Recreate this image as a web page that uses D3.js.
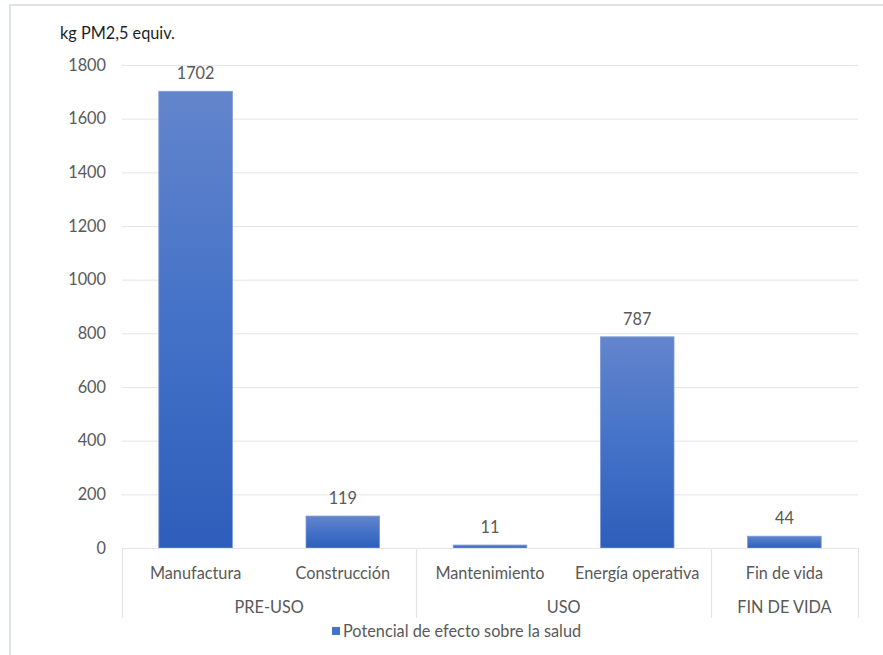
<!DOCTYPE html>
<html>
<head>
<meta charset="utf-8">
<script src="https://cdn.jsdelivr.net/npm/d3@7"></script>
<style>
  html, body { margin: 0; padding: 0; background: #fff; }
  svg { display: block; font-family: Lato, "Open Sans", sans-serif; }
</style>
</head>
<body>
<svg id="chart" width="883" height="655"></svg>
<script>
// Impact per life-cycle stage
const categories = ["Manufactura", "Construcción", "Mantenimiento", "Energía operativa", "Fin de vida"];
const values = [1702, 119, 11, 787, 44];
const groupNames = ["PRE-USO", "USO", "FIN DE VIDA"];
const groupSizes = [2, 2, 1];
const yTicks = [0, 200, 400, 600, 800, 1000, 1200, 1400, 1600, 1800];
const unitLabel = "kg PM2,5 equiv.";
const seriesName = "Potencial de efecto sobre la salud";

(function () {
const svg = d3.select("#chart");
const W = 883, H = 655;
const plotL = 122, plotR = 858, plotT = 65, plotB = 548;
const textColor = "#595959";
const gridColor = "#e3e5ea";
const fs = 16.3;

// outer frame
svg.append("path")
  .attr("d", `M10,${H + 2} L10,5 L${W + 2},5`)
  .attr("fill", "none").attr("stroke", "#dee2ea").attr("stroke-width", 2);

const x = d3.scaleBand().domain(categories).range([plotL, plotR]).paddingInner(0).paddingOuter(0);
const y = d3.scaleLinear().domain([0, 1800]).range([plotB, plotT]);

// gradient for bars
const defs = svg.append("defs");
const grad = defs.append("linearGradient").attr("id", "barGrad")
  .attr("x1", 0).attr("y1", 0).attr("x2", 0).attr("y2", 1);
grad.append("stop").attr("offset", "0%").attr("stop-color", "#6385cc");
grad.append("stop").attr("offset", "50%").attr("stop-color", "#4472c8");
grad.append("stop").attr("offset", "100%").attr("stop-color", "#2e5ebb");

// gridlines
svg.append("g").selectAll("line").data(yTicks.filter(d => d > 0)).join("line")
  .attr("x1", plotL).attr("x2", plotR)
  .attr("y1", d => y(d) + 0.5).attr("y2", d => y(d) + 0.5)
  .attr("stroke", gridColor).attr("stroke-width", 1);

// y axis labels
const yAxis = d3.axisLeft(y).tickValues(yTicks).tickFormat(d3.format("d")).tickSize(0).tickPadding(16);
const gy = svg.append("g").attr("transform", `translate(${plotL},0)`).call(yAxis);
gy.select(".domain").remove();
gy.selectAll("text").attr("fill", textColor).attr("font-size", fs)
  .attr("font-family", "Lato, 'Open Sans', sans-serif");

// unit label
svg.append("text").attr("x", 60).attr("y", 39).attr("fill", "#1f1f1f")
  .attr("font-size", fs).text(unitLabel);

// bars
const barW = x.bandwidth() * 0.5;
svg.append("g").selectAll("rect").data(values).join("rect")
  .attr("x", (d, i) => x(categories[i]) + (x.bandwidth() - barW) / 2)
  .attr("width", barW)
  .attr("y", d => y(d))
  .attr("height", d => plotB - y(d))
  .attr("fill", "url(#barGrad)")
  .attr("stroke", "#7d9ad6").attr("stroke-width", 0.8);

// value labels
svg.append("g").selectAll("text").data(values).join("text")
  .attr("x", (d, i) => x(categories[i]) + x.bandwidth() / 2)
  .attr("y", d => y(d) - 12)
  .attr("text-anchor", "middle").attr("fill", textColor).attr("font-size", fs)
  .text(d => d);

// category axis
const axisG = svg.append("g");
axisG.append("line").attr("x1", plotL).attr("x2", plotR)
  .attr("y1", plotB + 0.5).attr("y2", plotB + 0.5)
  .attr("stroke", gridColor).attr("stroke-width", 1.2);

const xAxis = d3.axisBottom(x).tickSize(0).tickPadding(0);
const gx = svg.append("g").attr("transform", `translate(0,${plotB})`).call(xAxis);
gx.select(".domain").remove();
gx.selectAll("text").attr("fill", textColor).attr("font-size", fs)
  .attr("font-family", "Lato, 'Open Sans', sans-serif")
  .attr("dy", null).attr("y", 31);

// group separators and names
let idx = 0;
const bounds = [plotL];
groupSizes.forEach(n => { idx += n; bounds.push(idx < categories.length ? x(categories[idx]) : plotR); });
axisG.selectAll("line.sep").data(bounds).join("line").attr("class", "sep")
  .attr("x1", d => Math.round(d) + 0.5).attr("x2", d => Math.round(d) + 0.5)
  .attr("y1", plotB).attr("y2", 618)
  .attr("stroke", gridColor).attr("stroke-width", 1.2);
svg.append("g").selectAll("text").data(groupNames).join("text")
  .attr("x", (d, i) => (bounds[i] + bounds[i + 1]) / 2)
  .attr("y", 613).attr("text-anchor", "middle")
  .attr("fill", textColor).attr("font-size", fs).text(d => d);

// legend
const leg = svg.append("g").attr("transform", "translate(332,631)");
leg.append("rect").attr("x", 0).attr("y", -4).attr("width", 8).attr("height", 8).attr("fill", "#4472c4");
leg.append("text").attr("x", 11).attr("y", 6).attr("fill", textColor).attr("font-size", fs).text(seriesName);
})();
</script>
</body>
</html>
